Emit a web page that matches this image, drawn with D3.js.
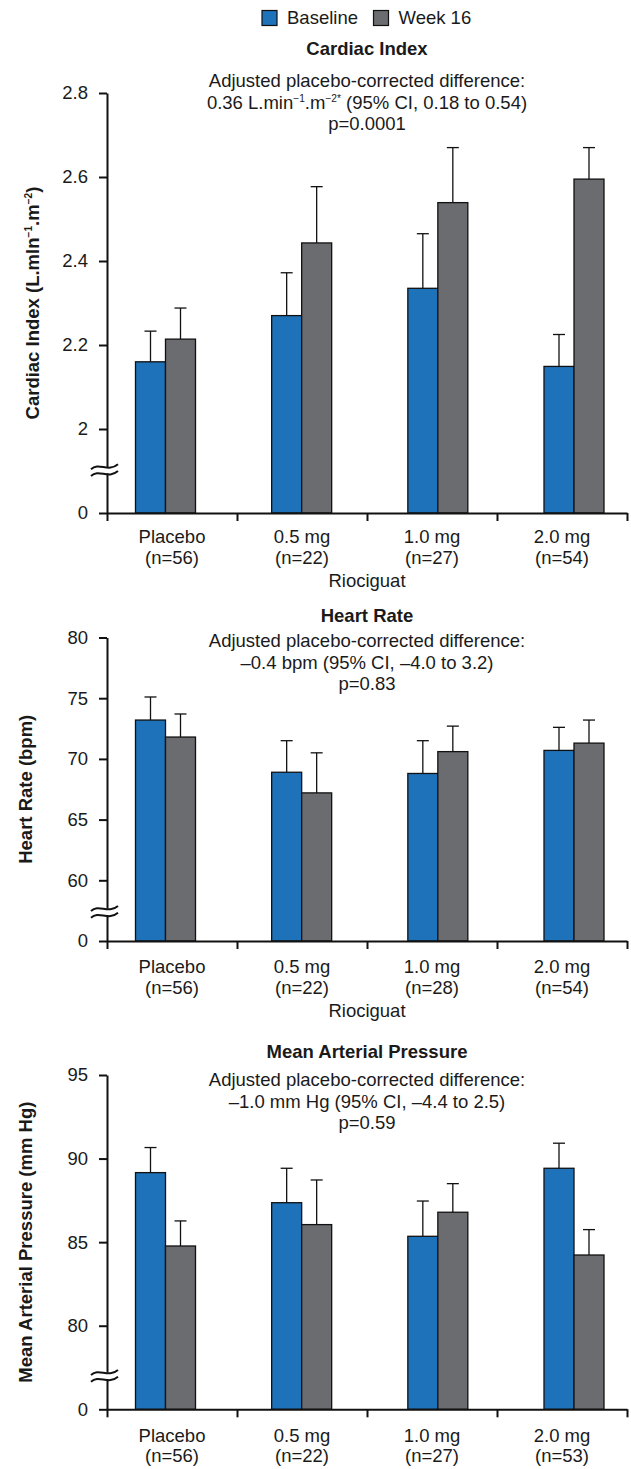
<!DOCTYPE html>
<html>
<head>
<meta charset="utf-8">
<script src="https://cdn.jsdelivr.net/npm/d3@7"></script>
<style>
  html, body { margin: 0; padding: 0; background: #ffffff; }
  svg { display: block; }
  text { font-family: 'Liberation Sans', Arial, Helvetica, sans-serif; fill: #1a1a1a; }
</style>
</head>
<body>
<div id="chart"></div>
<script>
// ---------------- DATA ----------------
const categories = ["Placebo", "0.5 mg", "1.0 mg", "2.0 mg"];
const seriesNames = ["Baseline", "Week 16"];
const xAxisTitle = "Riociguat";

// Cardiac Index
const ciN = ["(n=56)", "(n=22)", "(n=27)", "(n=54)"];
const ciBaseline = [2.160, 2.270, 2.335, 2.149];
const ciBaselineErr = [0.073, 0.102, 0.130, 0.076];
const ciWeek16 = [2.214, 2.443, 2.539, 2.595];
const ciWeek16Err = [0.074, 0.134, 0.131, 0.075];
const ciTicks = [1.8, 2.0, 2.2, 2.4, 2.6, 2.8];
const ciTickLabels = ["0", "2", "2.2", "2.4", "2.6", "2.8"];

// Heart Rate
const hrN = ["(n=56)", "(n=22)", "(n=28)", "(n=54)"];
const hrBaseline = [73.2, 68.9, 68.8, 70.7];
const hrBaselineErr = [1.9, 2.6, 2.7, 1.9];
const hrWeek16 = [71.8, 67.2, 70.6, 71.3];
const hrWeek16Err = [1.9, 3.3, 2.1, 1.9];
const hrTicks = [55, 60, 65, 70, 75, 80];
const hrTickLabels = ["0", "60", "65", "70", "75", "80"];

// Mean Arterial Pressure
const mapN = ["(n=56)", "(n=22)", "(n=27)", "(n=53)"];
const mapBaseline = [89.16, 87.36, 85.35, 89.42];
const mapBaselineErr = [1.5, 2.06, 2.11, 1.5];
const mapWeek16 = [84.77, 86.05, 86.79, 84.23];
const mapWeek16Err = [1.5, 2.67, 1.71, 1.52];
const mapTicks = [75, 80, 85, 90, 95];
const mapTickLabels = ["0", "80", "85", "90", "95"];

// ---------------- SETUP ----------------
const W = 631, H = 1469;
const FS = 18.5;
const colors = { Baseline: "#1e72b9", "Week 16": "#6b6c70" };

const svg = d3.select("#chart").append("svg")
  .attr("width", W).attr("height", H)
  .attr("viewBox", `0 0 ${W} ${H}`);
svg.append("rect").attr("width", W).attr("height", H).attr("fill", "#fff");

// legend
const legend = svg.append("g");
const legX = [262, 373.5];
seriesNames.forEach((s, i) => {
  legend.append("rect").attr("x", legX[i]).attr("y", 10.5).attr("width", 15).attr("height", 15)
    .attr("fill", colors[s]).attr("stroke", "#111").attr("stroke-width", 1.2);
  legend.append("text").attr("x", legX[i] + 25).attr("y", 24)
    .attr("font-size", FS).text(s);
});

function addSegments(textSel, segs) {
  let raised = false;
  segs.forEach(seg => {
    const ts = textSel.append("tspan").text(seg.t);
    if (seg.sup) {
      ts.attr("font-size", FS * 0.55);
      if (!raised) { ts.attr("dy", -7); raised = true; }
    } else if (raised) {
      ts.attr("dy", 7); raised = false;
    }
  });
}

const panels = [
  {
    title: "Cardiac Index", titleY: 55,
    notes: [
      [{t: "Adjusted placebo-corrected difference:"}],
      [{t: "0.36 L.min"}, {t: "−1", sup: true}, {t: ".m"}, {t: "−2*", sup: true}, {t: " (95% CI, 0.18 to 0.54)"}],
      [{t: "p=0.0001"}]
    ],
    noteY: [87.3, 108.5, 129.5],
    ylabel: [{t: "Cardiac Index (L.mln"}, {t: "−1", sup: true}, {t: ".m"}, {t: "−2", sup: true}, {t: ")"}],
    ylabelX: 39,
    n: ciN, base: ciBaseline, baseErr: ciBaselineErr, wk: ciWeek16, wkErr: ciWeek16Err,
    ticks: ciTicks, tickLabels: ciTickLabels,
    domain: [1.8, 2.8], top: 93, bottom: 513, breakVal: 1.902,
    labelOffsets: [29.5, 50.5], showXTitle: true, xTitleOffset: 73.5
  },
  {
    title: "Heart Rate", titleY: 621.7,
    notes: [
      [{t: "Adjusted placebo-corrected difference:"}],
      [{t: "–0.4 bpm (95% CI, –4.0 to 3.2)"}],
      [{t: "p=0.83"}]
    ],
    noteY: [646.7, 668.5, 690],
    ylabel: [{t: "Heart Rate (bpm)"}],
    ylabelX: 32,
    n: hrN, base: hrBaseline, baseErr: hrBaselineErr, wk: hrWeek16, wkErr: hrWeek16Err,
    ticks: hrTicks, tickLabels: hrTickLabels,
    domain: [55, 80], top: 637.5, bottom: 941, breakVal: 57.4,
    labelOffsets: [31.5, 53], showXTitle: true, xTitleOffset: 75.5
  },
  {
    title: "Mean Arterial Pressure", titleY: 1058.3,
    notes: [
      [{t: "Adjusted placebo-corrected difference:"}],
      [{t: "–1.0 mm Hg (95% CI, –4.4 to 2.5)"}],
      [{t: "p=0.59"}]
    ],
    noteY: [1085.8, 1107.7, 1129.3],
    ylabel: [{t: "Mean Arterial Pressure (mm Hg)"}],
    ylabelX: 32,
    n: mapN, base: mapBaseline, baseErr: mapBaselineErr, wk: mapWeek16, wkErr: mapWeek16Err,
    ticks: mapTicks, tickLabels: mapTickLabels,
    domain: [75, 95], top: 1075, bottom: 1409.3, breakVal: 77.0,
    labelOffsets: [32.3, 53], showXTitle: false
  }
];

const X0 = 107, X1 = 627;
const xBand = d3.scaleBand().domain(categories).range([X0, X1]);
const xPair = d3.scalePoint().domain(categories).range([165.5, 574]);
const xEdge = d3.scaleLinear().domain([0, categories.length]).range([X0, X1]);
const barW = 30;
const cx = (X0 + X1) / 2;

panels.forEach(p => {
  const g = svg.append("g");
  const y = d3.scaleLinear().domain(p.domain).range([p.bottom, p.top]);

  // title
  g.append("text").attr("x", cx).attr("y", p.titleY).attr("text-anchor", "middle")
    .attr("font-size", FS).attr("font-weight", "bold").text(p.title);
  // notes
  p.notes.forEach((segs, i) => {
    const t = g.append("text").attr("x", cx).attr("y", p.noteY[i]).attr("text-anchor", "middle")
      .attr("font-size", FS);
    addSegments(t, segs);
  });

  // y label
  const yl = g.append("text")
    .attr("transform", `translate(${p.ylabelX},${(p.top + p.bottom) / 2}) rotate(-90)`)
    .attr("text-anchor", "middle").attr("font-size", FS).attr("font-weight", "bold");
  addSegments(yl, p.ylabel);

  // bars
  const series = [
    {name: "Baseline", vals: p.base, err: p.baseErr, off: -barW},
    {name: "Week 16", vals: p.wk, err: p.wkErr, off: 0}
  ];
  series.forEach(s => {
    const bg = g.append("g");
    bg.selectAll("rect").data(categories).join("rect")
      .attr("x", (c) => xPair(c) + s.off)
      .attr("y", (c, i) => y(s.vals[i]))
      .attr("width", barW)
      .attr("height", (c, i) => p.bottom - y(s.vals[i]))
      .attr("fill", colors[s.name]).attr("stroke", "#111").attr("stroke-width", 1.3);
    bg.selectAll("line.ev").data(categories).join("line").attr("class", "ev")
      .attr("x1", c => xPair(c) + s.off + barW / 2).attr("x2", c => xPair(c) + s.off + barW / 2)
      .attr("y1", (c, i) => y(s.vals[i])).attr("y2", (c, i) => y(s.vals[i] + s.err[i]))
      .attr("stroke", "#111").attr("stroke-width", 1.3);
    bg.selectAll("line.cap").data(categories).join("line").attr("class", "cap")
      .attr("x1", c => xPair(c) + s.off + barW / 2 - 6).attr("x2", c => xPair(c) + s.off + barW / 2 + 6)
      .attr("y1", (c, i) => y(s.vals[i] + s.err[i])).attr("y2", (c, i) => y(s.vals[i] + s.err[i]))
      .attr("stroke", "#111").attr("stroke-width", 1.3);
  });

  // y axis
  const yAxis = d3.axisLeft(y).tickValues(p.ticks)
    .tickFormat((d, i) => p.tickLabels[i]).tickSize(8).tickSizeOuter(0).tickPadding(11);
  const ya = g.append("g").attr("transform", `translate(${X0},0)`).call(yAxis);
  ya.selectAll("text").attr("font-size", FS).attr("font-family", null).attr("fill", "#1a1a1a");
  ya.selectAll("line, path").attr("stroke", "#111").attr("stroke-width", 2);

  // x axis
  const xAxis = d3.axisBottom(xEdge).tickValues(d3.range(categories.length + 1))
    .tickFormat("").tickSize(8).tickSizeOuter(0);
  const xa = g.append("g").attr("transform", `translate(0,${p.bottom})`).call(xAxis);
  xa.selectAll("line, path").attr("stroke", "#111").attr("stroke-width", 2);

  // category labels
  categories.forEach((c, i) => {
    const t = g.append("text").attr("text-anchor", "middle").attr("font-size", FS);
    t.append("tspan").attr("x", xBand(c) + xBand.bandwidth() / 2).attr("y", p.bottom + p.labelOffsets[0]).text(c);
    t.append("tspan").attr("x", xBand(c) + xBand.bandwidth() / 2).attr("y", p.bottom + p.labelOffsets[1]).text(p.n[i]);
  });
  if (p.showXTitle) {
    g.append("text").attr("x", xBand.range()[0] + (X1 - X0) / 2).attr("y", p.bottom + p.xTitleOffset)
      .attr("text-anchor", "middle").attr("font-size", FS).text(xAxisTitle);
  }

  // axis break
  const yb = y(p.breakVal);
  g.append("rect").attr("x", X0 - 4).attr("y", yb - 3.2).attr("width", 8).attr("height", 6.4).attr("fill", "#fff");
  [-3.4, 3.4].forEach(d => {
    const yy = yb + d;
    g.append("path")
      .attr("d", `M${X0 - 16},${yy + 2.5} C${X0 - 8},${yy - 5} ${X0 + 1},${yy + 6} ${X0 + 11},${yy - 2.5}`)
      .attr("fill", "none").attr("stroke", "#111").attr("stroke-width", 2);
  });
});
</script>
</body>
</html>
